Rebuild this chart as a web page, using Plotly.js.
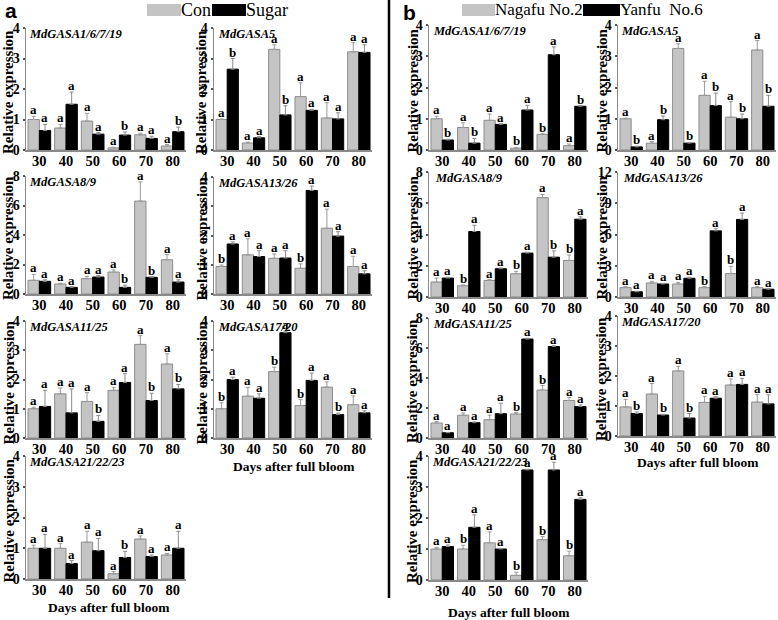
<!DOCTYPE html>
<html>
<head>
<meta charset="utf-8">
<script src="https://cdn.plot.ly/plotly-3.0.1.min.js"></script>
<style>html,body{margin:0;padding:0;background:#fff;}#chart{width:778px;height:620px;}</style>
</head>
<body>
<div id="chart"></div>
<script>
// ---------- data ----------
const days = ['30', '40', '50', '60', '70', '80'];
const seriesA = ['Con', 'Sugar'];
const seriesB = ['Nagafu No.2', 'Yanfu  No.6'];
const genes = ['MdGASA1/6/7/19', 'MdGASA5', 'MdGASA8/9', 'MdGASA13/26', 'MdGASA11/25', 'MdGASA17/20', 'MdGASA21/22/23'];
const xTitle = 'Days after full bloom';
const yTitle = 'Relative expression';

// panel a : Con vs Sugar
const aG1_con = [1.0, 0.72, 0.95, 0.07, 0.5, 0.13];
const aG1_conErr = [0.1, 0.12, 0.25, 0.02, 0.05, 0.05];
const aG1_conSig = ['a', 'a', 'a', 'a', 'a', 'a'];
const aG1_sug = [0.64, 1.5, 0.52, 0.49, 0.38, 0.6];
const aG1_sugErr = [0.2, 0.4, 0.05, 0.1, 0.07, 0.15];
const aG1_sugSig = ['a', 'a', 'a', 'b', 'a', 'b'];

const aG5_con = [1.0, 0.23, 3.3, 1.75, 1.05, 3.22];
const aG5_conErr = [0.02, 0.03, 0.15, 0.45, 0.5, 0.3];
const aG5_conSig = ['a', 'a', 'a', 'a', 'a', 'a'];
const aG5_sug = [2.65, 0.4, 1.15, 1.3, 1.02, 3.2];
const aG5_sugErr = [0.35, 0.04, 0.3, 0.03, 0.2, 0.25];
const aG5_sugSig = ['b', 'a', 'b', 'a', 'a', 'a'];

const aG8_con = [0.93, 0.68, 1.04, 1.49, 6.3, 2.32];
const aG8_conErr = [0.4, 0.05, 0.15, 0.15, 1.3, 0.35];
const aG8_conSig = ['a', 'a', 'a', 'a', 'a', 'a'];
const aG8_sug = [0.86, 0.45, 1.15, 0.45, 1.13, 0.81];
const aG8_sugErr = [0.1, 0.05, 0.1, 0.15, 0.05, 0.15];
const aG8_sugSig = ['a', 'a', 'a', 'b', 'b', 'a'];

const aG13_con = [0.94, 1.34, 1.22, 0.88, 2.25, 0.94];
const aG13_conErr = [0.05, 0.55, 0.15, 0.15, 0.65, 0.35];
const aG13_conSig = ['b', 'a', 'a', 'b', 'a', 'a'];
const aG13_sug = [1.71, 1.28, 1.23, 3.54, 1.98, 0.69];
const aG13_sugErr = [0.07, 0.2, 0.25, 0.15, 0.15, 0.1];
const aG13_sugSig = ['a', 'a', 'a', 'a', 'a', 'a'];

const aG11_con = [1.0, 1.51, 1.25, 1.63, 3.2, 2.53];
const aG11_conErr = [0.05, 0.2, 0.3, 0.1, 0.3, 0.35];
const aG11_conSig = ['a', 'a', 'a', 'a', 'a', 'a'];
const aG11_sug = [1.08, 0.86, 0.57, 1.9, 1.28, 1.68];
const aG11_sugErr = [0.55, 0.82, 0.2, 0.3, 0.25, 0.15];
const aG11_sugSig = ['a', 'a', 'b', 'a', 'b', 'b'];

const aG17_con = [1.0, 1.43, 2.27, 1.11, 1.74, 1.14];
const aG17_conErr = [0.2, 0.3, 0.15, 0.2, 0.18, 0.3];
const aG17_conSig = ['b', 'a', 'b', 'b', 'a', 'a'];
const aG17_sug = [2.0, 1.36, 3.6, 1.97, 0.8, 0.86];
const aG17_sugErr = [0.08, 0.15, 0.05, 0.25, 0.05, 0.07];
const aG17_sugSig = ['a', 'a', 'a', 'a', 'b', 'a'];

const aG21_con = [1.0, 1.0, 1.2, 0.17, 1.3, 0.78];
const aG21_conErr = [0.1, 0.15, 0.35, 0.07, 0.1, 0.05];
const aG21_conSig = ['a', 'a', 'a', 'a', 'a', 'a'];
const aG21_sug = [1.0, 0.5, 0.92, 0.7, 0.73, 1.0];
const aG21_sugErr = [0.45, 0.1, 0.4, 0.2, 0.05, 0.55];
const aG21_sugSig = ['a', 'a', 'a', 'b', 'a', 'a'];

// panel b : Nagafu No.2 vs Yanfu No.6
const bG1_nag = [1.0, 0.72, 0.95, 0.06, 0.5, 0.14];
const bG1_nagErr = [0.08, 0.15, 0.2, 0.02, 0.02, 0.05];
const bG1_nagSig = ['a', 'a', 'a', 'b', 'b', 'a'];
const bG1_yan = [0.32, 0.22, 0.82, 1.28, 3.05, 1.4];
const bG1_yanErr = [0.02, 0.15, 0.02, 0.15, 0.25, 0.02];
const bG1_yanSig = ['b', 'b', 'a', 'a', 'a', 'b'];

const bG5_nag = [1.0, 0.22, 3.25, 1.75, 1.05, 3.2];
const bG5_nagErr = [0.02, 0.05, 0.15, 0.45, 0.5, 0.3];
const bG5_nagSig = ['a', 'a', 'a', 'a', 'a', 'a'];
const bG5_yan = [0.1, 0.97, 0.22, 1.42, 1.0, 1.4];
const bG5_yanErr = [0.02, 0.12, 0.02, 0.4, 0.15, 0.35];
const bG5_yanSig = ['b', 'b', 'b', 'b', 'b', 'b'];

const bG8_nag = [0.96, 0.72, 1.06, 1.49, 6.36, 2.34];
const bG8_nagErr = [0.25, 0.05, 0.05, 0.15, 0.2, 0.35];
const bG8_nagSig = ['a', 'b', 'a', 'b', 'a', 'b'];
const bG8_yan = [1.21, 4.19, 1.81, 2.81, 2.55, 4.98];
const bG8_yanErr = [0.05, 0.4, 0.05, 0.05, 0.4, 0.15];
const bG8_yanSig = ['a', 'a', 'a', 'a', 'b', 'a'];

const bG13_nag = [0.9, 1.35, 1.25, 0.9, 2.25, 0.9];
const bG13_nagErr = [0.1, 0.15, 0.15, 0.1, 0.7, 0.1];
const bG13_nagSig = ['a', 'a', 'a', 'b', 'b', 'a'];
const bG13_yan = [0.5, 1.25, 1.8, 6.35, 7.45, 0.75];
const bG13_yanErr = [0.05, 0.05, 0.1, 0.2, 0.6, 0.05];
const bG13_yanSig = ['a', 'a', 'a', 'a', 'a', 'a'];

const bG11_nag = [1.0, 1.52, 1.22, 1.6, 3.2, 2.5];
const bG11_nagErr = [0.1, 0.15, 0.3, 0.1, 0.3, 0.2];
const bG11_nagSig = ['a', 'a', 'a', 'b', 'b', 'a'];
const bG11_yan = [0.35, 1.02, 1.62, 6.6, 6.1, 2.1];
const bG11_yanErr = [0.02, 0.05, 0.7, 0.05, 0.05, 0.1];
const bG11_yanSig = ['a', 'a', 'a', 'a', 'a', 'a'];

const bG17_nag = [0.97, 1.4, 2.17, 1.12, 1.7, 1.13];
const bG17_nagErr = [0.25, 0.35, 0.15, 0.2, 0.2, 0.25];
const bG17_nagSig = ['a', 'a', 'a', 'a', 'a', 'a'];
const bG17_yan = [0.75, 0.7, 0.6, 1.26, 1.72, 1.07];
const bG17_yanErr = [0.05, 0.02, 0.15, 0.05, 0.2, 0.3];
const bG17_yanSig = ['b', 'b', 'b', 'a', 'a', 'a'];

const bG21_nag = [1.0, 1.0, 1.2, 0.15, 1.3, 0.78];
const bG21_nagErr = [0.05, 0.12, 0.35, 0.1, 0.1, 0.15];
const bG21_nagSig = ['a', 'b', 'a', 'b', 'b', 'b'];
const bG21_yan = [1.08, 1.7, 1.0, 3.55, 3.55, 2.6];
const bG21_yanErr = [0.05, 0.4, 0.02, 0.02, 0.25, 0.05];
const bG21_yanSig = ['a', 'a', 'a', 'a', 'a', 'a'];

// ---------- layout geometry (pixels) ----------
const W = 778, H = 620;
const xp = v => v / W;
const yp = v => 1 - v / H;
const SERIF = 'Liberation Serif, serif';

const subplots = [
  {g: 0, c: [aG1_con, aG1_conErr, aG1_conSig], s: [aG1_sug, aG1_sugErr, aG1_sugSig], x: [26, 186], y: [28, 150], ymax: 4, dt: 1, yt: 8, gx: 28},
  {g: 1, c: [aG5_con, aG5_conErr, aG5_conSig], s: [aG5_sug, aG5_sugErr, aG5_sugSig], x: [214, 372], y: [28, 150], ymax: 4, dt: 1, yt: 201, gx: 217},
  {g: 2, c: [aG8_con, aG8_conErr, aG8_conSig], s: [aG8_sug, aG8_sugErr, aG8_sugSig], x: [26, 186], y: [176, 294], ymax: 8, dt: 2, yt: 8, gx: 28},
  {g: 3, c: [aG13_con, aG13_conErr, aG13_conSig], s: [aG13_sug, aG13_sugErr, aG13_sugSig], x: [214, 372], y: [177, 294], ymax: 4, dt: 1, yt: 201, gx: 217},
  {g: 4, c: [aG11_con, aG11_conErr, aG11_conSig], s: [aG11_sug, aG11_sugErr, aG11_sugSig], x: [26, 186], y: [321, 438], ymax: 4, dt: 1, yt: 8, gx: 28},
  {g: 5, c: [aG17_con, aG17_conErr, aG17_conSig], s: [aG17_sug, aG17_sugErr, aG17_sugSig], x: [214, 372], y: [321, 438], ymax: 4, dt: 1, yt: 201, gx: 217, xt: [294, 467]},
  {g: 6, c: [aG21_con, aG21_conErr, aG21_conSig], s: [aG21_sug, aG21_sugErr, aG21_sugSig], x: [26, 186], y: [456, 579], ymax: 4, dt: 1, yt: 8, gx: 28, xt: [109, 607]},
  {g: 0, c: [bG1_nag, bG1_nagErr, bG1_nagSig], s: [bG1_yan, bG1_yanErr, bG1_yanSig], x: [429, 588], y: [25, 150], ymax: 4, dt: 1, yt: 412, gx: 432},
  {g: 1, c: [bG5_nag, bG5_nagErr, bG5_nagSig], s: [bG5_yan, bG5_yanErr, bG5_yanSig], x: [618, 776], y: [25, 150], ymax: 4, dt: 1, yt: 601, gx: 620},
  {g: 2, c: [bG8_nag, bG8_nagErr, bG8_nagSig], s: [bG8_yan, bG8_yanErr, bG8_yanSig], x: [429, 588], y: [172, 297], ymax: 8, dt: 2, yt: 412, gx: 434},
  {g: 3, c: [bG13_nag, bG13_nagErr, bG13_nagSig], s: [bG13_yan, bG13_yanErr, bG13_yanSig], x: [618, 776], y: [172, 297], ymax: 12, dt: 3, yt: 601, gx: 622},
  {g: 4, c: [bG11_nag, bG11_nagErr, bG11_nagSig], s: [bG11_yan, bG11_yanErr, bG11_yanSig], x: [429, 588], y: [318, 438], ymax: 8, dt: 2, yt: 412, gx: 432},
  {g: 5, c: [bG17_nag, bG17_nagErr, bG17_nagSig], s: [bG17_yan, bG17_yanErr, bG17_yanSig], x: [618, 776], y: [316, 436], ymax: 4, dt: 1, yt: 601, gx: 620, xt: [698, 462]},
  {g: 6, c: [bG21_nag, bG21_nagErr, bG21_nagSig], s: [bG21_yan, bG21_yanErr, bG21_yanSig], x: [429, 588], y: [456, 580], ymax: 4, dt: 1, yt: 412, gx: 431, xt: [509, 612]}
];

const traces = [];
const annotations = [];
const shapes = [];
const layout = {
  width: W, height: H,
  margin: {l: 0, r: 0, t: 0, b: 0},
  paper_bgcolor: '#fff', plot_bgcolor: 'rgba(0,0,0,0)',
  barmode: 'group', bargap: 0.15, bargroupgap: 0,
  showlegend: false,
  font: {family: SERIF, color: '#000'}
};

subplots.forEach((sp, i) => {
  const n = i === 0 ? '' : String(i + 1);
  const xa = 'x' + n, ya = 'y' + n;
  layout['xaxis' + n] = {
    domain: [xp(sp.x[0]), xp(sp.x[1])], anchor: ya, type: 'category',
    categoryorder: 'array', categoryarray: days,
    range: [-0.5, days.length - 0.5], autorange: false,
    showline: true, linecolor: '#8a8a8a', linewidth: 1.5, ticks: '',
    showgrid: false, zeroline: false, fixedrange: true, ticklabelstandoff: -3,
    tickfont: {family: SERIF, size: 14.5, weight: 'bold', color: '#000'}
  };
  layout['yaxis' + n] = {
    domain: [yp(sp.y[1]), yp(sp.y[0])], anchor: xa, range: [0, sp.ymax], autorange: false,
    tick0: 0, dtick: sp.dt, showline: true, linecolor: '#8a8a8a', linewidth: 1.5,
    ticks: 'outside', ticklen: 2, tickwidth: 2, tickcolor: '#555',
    showgrid: false, zeroline: false, fixedrange: true, ticklabelstandoff: 0,
    tickfont: {family: SERIF, size: 14, weight: 'bold', color: '#000'}
  };
  const zeros = days.map(() => 0);
  traces.push({
    type: 'bar', x: days, y: sp.c[0], xaxis: xa, yaxis: ya, name: i < 7 ? seriesA[0] : seriesB[0],
    marker: {color: '#c4c4c4', line: {color: '#8c8c8c', width: 1}},
    error_y: {type: 'data', symmetric: false, array: sp.c[1], arrayminus: zeros, color: '#9a9a9a', thickness: 1, width: 2},
    hoverinfo: 'skip'
  });
  traces.push({
    type: 'bar', x: days, y: sp.s[0], xaxis: xa, yaxis: ya, name: i < 7 ? seriesA[1] : seriesB[1],
    marker: {color: '#000', line: {color: '#000', width: 1}},
    error_y: {type: 'data', symmetric: false, array: sp.s[1], arrayminus: zeros, color: '#8a8a8a', thickness: 1, width: 2},
    hoverinfo: 'skip'
  });
  // significance letters (x given as category index on the axis)
  const catPx = (sp.x[1] - sp.x[0]) / days.length;
  const off = catPx * 0.2125;
  days.forEach((d, k) => {
    [[sp.c, -off], [sp.s, off]].forEach(([ser, dx]) => {
      annotations.push({
        xref: xa, yref: ya, x: k, y: ser[0][k] + ser[1][k], xshift: dx, yshift: -2,
        yanchor: 'bottom', xanchor: 'center', showarrow: false, text: ser[2][k], borderpad: 0,
        font: {family: SERIF, size: 13, weight: 'bold', color: '#000'}
      });
    });
  });
  // gene name
  annotations.push({
    xref: 'paper', yref: 'paper', x: xp(sp.gx), y: yp(sp.y[0] + 6), xanchor: 'left', yanchor: 'middle',
    showarrow: false, text: genes[sp.g], borderpad: 0,
    font: {family: SERIF, size: 12.5, weight: 'bold', style: 'italic', color: '#000'}
  });
  // y title
  annotations.push({
    xref: 'paper', yref: 'paper', x: xp(sp.yt), y: yp((sp.y[0] + sp.y[1]) / 2 + 3), xanchor: 'center', yanchor: 'middle',
    showarrow: false, text: yTitle, textangle: -90,
    font: {family: SERIF, size: 15, weight: 'bold', color: '#000'}
  });
  if (sp.xt) {
    annotations.push({
      xref: 'paper', yref: 'paper', x: xp(sp.xt[0]), y: yp(sp.xt[1]), xanchor: 'center', yanchor: 'middle',
      showarrow: false, text: xTitle,
      font: {family: SERIF, size: 13.5, weight: 'bold', color: '#000'}
    });
  }
});

// legends, panel letters, divider
function legendBox(x0, x1, color) {
  shapes.push({type: 'rect', xref: 'paper', yref: 'paper', x0: xp(x0), x1: xp(x1), y0: yp(16), y1: yp(4),
    fillcolor: color, line: {width: 0}});
}
function legendText(x, txt, size) {
  annotations.push({xref: 'paper', yref: 'paper', x: xp(x), y: yp(10), xanchor: 'left', yanchor: 'middle',
    showarrow: false, text: txt, borderpad: 0, font: {family: SERIF, size: size, color: '#000'}});
}
legendBox(147, 181, '#c4c4c4'); legendText(180, seriesA[0], 18);
legendBox(212, 246, '#000'); legendText(245, seriesA[1], 18);
legendBox(462, 495, '#c4c4c4'); legendText(494, seriesB[0], 17);
legendBox(583, 620, '#000'); legendText(619, seriesB[1].replace('  ', '&nbsp; '), 17);

annotations.push({xref: 'paper', yref: 'paper', x: xp(3), y: yp(11), xanchor: 'left', yanchor: 'middle', showarrow: false,
  text: 'a', font: {family: 'Liberation Sans, sans-serif', size: 21, weight: 'bold', color: '#000'}});
annotations.push({xref: 'paper', yref: 'paper', x: xp(401), y: yp(12), xanchor: 'left', yanchor: 'middle', showarrow: false,
  text: 'b', font: {family: 'Liberation Sans, sans-serif', size: 21, weight: 'bold', color: '#000'}});

shapes.push({type: 'line', xref: 'paper', yref: 'paper', x0: xp(389), x1: xp(389), y0: yp(0), y1: yp(598),
  line: {color: '#000', width: 2.5}});

layout.annotations = annotations;
layout.shapes = shapes;

Plotly.newPlot('chart', traces, layout, {staticPlot: true, displayModeBar: false});
</script>
</body>
</html>
